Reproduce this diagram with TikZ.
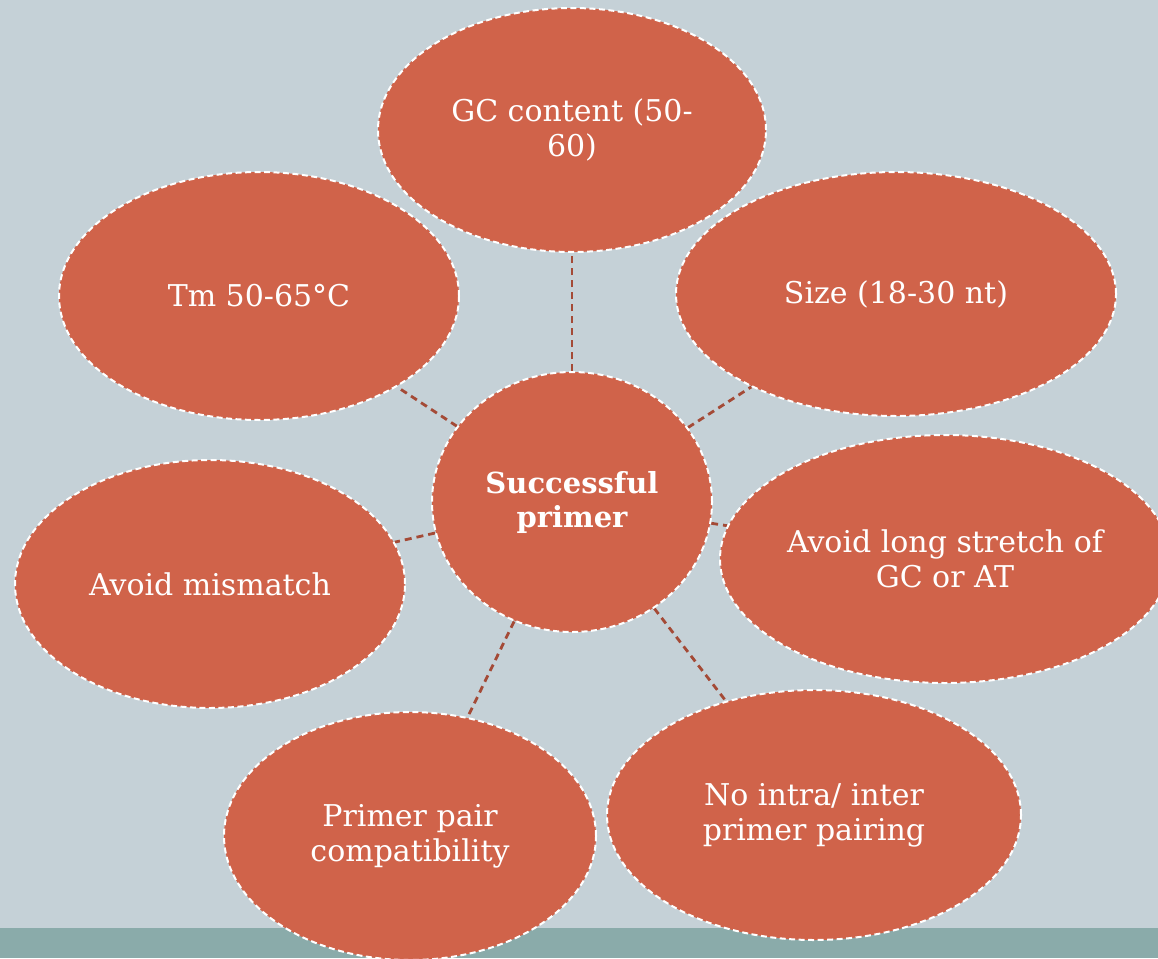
\documentclass[tikz,border=0pt]{standalone}
\usepackage{fontspec}
\setmainfont{DejaVu Serif}
\usetikzlibrary{shapes.geometric}
\definecolor{bgc}{HTML}{C5D1D7}
\definecolor{bandc}{HTML}{8AABAA}
\definecolor{blobc}{HTML}{D0634A}
\definecolor{linkc}{HTML}{A44A36}
\pgfdeclarelayer{back}
\pgfdeclarelayer{links}
\pgfsetlayers{back,links,main}
\begin{document}
\begin{tikzpicture}[x=1pt,y=-1pt,
  bubble/.style={ellipse, fill=blobc, draw=white, line width=2pt,
    dash pattern=on 6pt off 3.5pt, text=white, align=center, inner sep=0pt,
    font=\fontsize{30}{35}\selectfont},
  linker/.style={draw=linkc, line width=2.8pt, dash pattern=on 7pt off 5pt}]
\useasboundingbox (0,0) rectangle (1158,958);
\clip (0,0) rectangle (1158,958);
\begin{pgfonlayer}{back}
  \fill[bgc] (0,0) rectangle (1158,958);
  \fill[bandc] (0,928) rectangle (1158,958);
\end{pgfonlayer}

% hub
\node[bubble, minimum width=280pt, minimum height=260pt,
  font=\fontsize{29}{34}\selectfont\bfseries] (hub) at (572,502) {Successful\\primer};

% surrounding requirements
\node[bubble, minimum width=388pt, minimum height=244pt] (gc)   at (572,130) {GC content (50-\\60)};
\node[bubble, minimum width=400pt, minimum height=248pt] (tm)   at (259,296) {Tm 50-65°C};
\node[bubble, minimum width=440pt, minimum height=244pt] (size) at (896,294) {Size (18-30 nt)};
\node[bubble, minimum width=390pt, minimum height=248pt] (mis)  at (210,584) {Avoid mismatch};
\node[bubble, minimum width=450pt, minimum height=248pt] (run)  at (945,559) {Avoid long stretch of\\GC or AT};
\node[bubble, minimum width=372pt, minimum height=248pt] (pair) at (410,836) {Primer pair\\compatibility};
\node[bubble, minimum width=414pt, minimum height=250pt] (self) at (814,815) {No intra/ inter\\primer pairing};

\begin{pgfonlayer}{links}
  \foreach \n in {gc,tm,size,mis,run,pair,self}
    \draw[linker] (hub) -- (\n);
\end{pgfonlayer}
\end{tikzpicture}
\end{document}
